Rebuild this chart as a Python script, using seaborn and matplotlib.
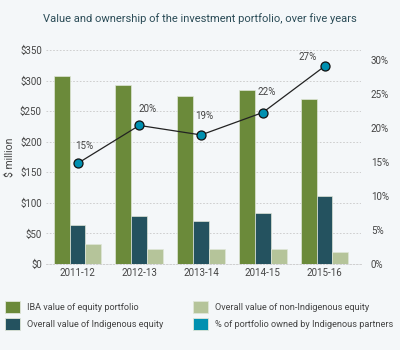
import matplotlib
matplotlib.use("Agg")
import matplotlib.pyplot as plt
import seaborn as sns
import pandas as pd
from matplotlib.patches import Patch

years = ["2011-12", "2012-13", "2013-14", "2014-15", "2015-16"]
iba_value = [308, 293, 274, 284, 270]
indigenous_value = [63, 78, 70, 83, 112]
non_indigenous_value = [33, 24, 24, 24, 19]
pct_owned = [14.8, 20.4, 19.0, 22.3, 29.1]
pct_labels = ["15%", "20%", "19%", "22%", "27%"]
series_names = ["IBA value of equity portfolio",
                "Overall value of Indigenous equity",
                "Overall value of non-Indigenous equity"]
line_name = "% of portfolio owned by Indigenous partners"

bg = "#f4f7f9"
c_green = "#6b8a3a"
c_dark = "#24525f"
c_light = "#b5c49a"
c_teal = "#0090b0"
text_c = "#444444"

df = pd.DataFrame({
    "year": years * 3,
    "value": iba_value + indigenous_value + non_indigenous_value,
    "series": [series_names[0]] * 5 + [series_names[1]] * 5 + [series_names[2]] * 5,
})

sns.set_theme(style="white")
plt.rcParams["font.family"] = ["Roboto", "DejaVu Sans"]

fig = plt.figure(figsize=(4, 3.5), dpi=100, facecolor=bg)
ax = fig.add_axes([0.115, 0.2457, 0.7875, 0.6114], facecolor=bg)

sns.barplot(data=df, x="year", y="value", hue="series", ax=ax,
            palette=[c_green, c_dark, c_light], width=0.77,
            edgecolor="#dfe6d8", linewidth=0.5, saturation=1, legend=False)

ax.set_ylim(0, 350)
ax.set_xlim(-0.51, 4.59)
ax.set_yticks(range(0, 351, 50))
ax.set_yticklabels([f"${v}" for v in range(0, 351, 50)])
ax.yaxis.grid(True, linestyle=(0, (2, 2)), color="#c8c8c8", linewidth=0.6)
ax.set_axisbelow(True)
for s in ["left", "right", "top"]:
    ax.spines[s].set_visible(False)
ax.spines["bottom"].set_color("#c8c8c8")
ax.spines["bottom"].set_linestyle((0, (2, 2)))
ax.spines["bottom"].set_linewidth(0.6)
ax.tick_params(axis="both", length=0, labelsize=7, colors=text_c, pad=3)
ax.set_xlabel("")
ax.set_ylabel("$ million", fontsize=7.5, color=text_c)
ax.yaxis.set_label_coords(-0.1, 0.5)

ax2 = ax.twinx()
ax2.set_ylim(0, 31.5)
ax2.set_yticks(range(0, 31, 5))
ax2.set_yticklabels([f"{v}%" for v in range(0, 31, 5)])
ax2.tick_params(axis="y", length=0, labelsize=7, colors=text_c, pad=7)
for s in ax2.spines.values():
    s.set_visible(False)
sns.lineplot(x=list(range(len(years))), y=pct_owned, ax=ax2, color="#222222",
             linewidth=0.9, marker="o", markersize=6.5, markerfacecolor=c_teal,
             markeredgecolor="#111111", markeredgewidth=0.9)
offsets = [(5, 9), (6, 8), (2, 10), (3, 11), (-12, 3)]
for i, (v, lab) in enumerate(zip(pct_owned, pct_labels)):
    ax2.annotate(lab, (i, v), xytext=offsets[i], textcoords="offset points",
                 ha="center", va="bottom", fontsize=7, color=text_c)

fig.text(0.5, 0.948, "Value and ownership of the investment portfolio, over five years",
         ha="center", va="center", fontsize=8.0, color="#2b4c57")

def patch(c):
    return Patch(facecolor=c, edgecolor="#dfe6d8", linewidth=0.6)

leg_kw = dict(loc="upper left", frameon=False, fontsize=6.6, handlelength=1.65,
              handleheight=1.65, handletextpad=0.75, labelspacing=0.5,
              labelcolor=text_c, borderaxespad=0, borderpad=0)
leg1 = fig.legend([patch(c_green), patch(c_dark)], [series_names[0], series_names[1]],
                  bbox_to_anchor=(0.012, 0.14), **leg_kw)
leg2 = fig.legend([patch(c_light), patch(c_teal)], [series_names[2], line_name],
                  bbox_to_anchor=(0.482, 0.14), **leg_kw)

fig.savefig("out.png", dpi=100, facecolor=bg)
